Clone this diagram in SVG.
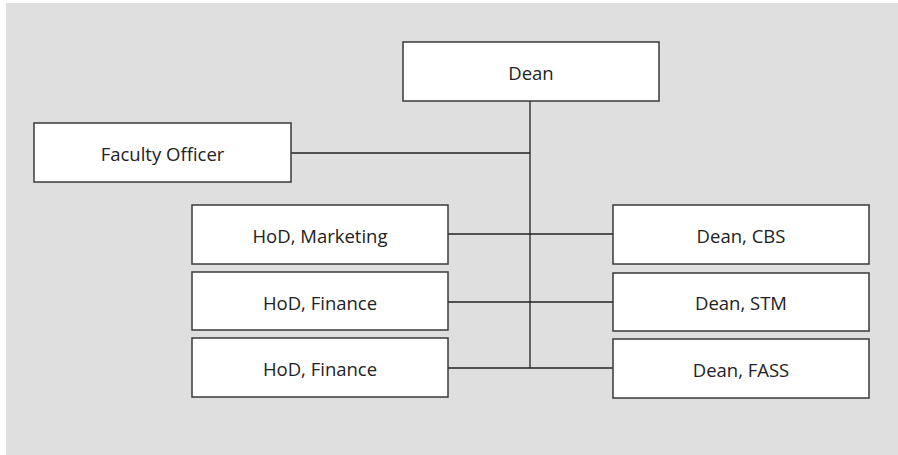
<svg xmlns="http://www.w3.org/2000/svg" width="898" height="455" viewBox="0 0 898 455">
<style>
.box{fill:#fff;stroke:#3a3a3a;stroke-width:1.5}
.lbl{font-family:"Open Sans","Noto Sans","Liberation Sans",sans-serif;font-size:18.5px;fill:#222;text-anchor:middle;dominant-baseline:central}
.con{stroke:#222;stroke-width:1.3;fill:none}
</style>
<rect x="6" y="3" width="892" height="452" fill="#dfdfdf"/>
<g id="connectors">
<line class="con" x1="530" y1="101" x2="530" y2="368"/>
<line class="con" x1="291" y1="153" x2="530" y2="153"/>
<line class="con" x1="448" y1="234" x2="613" y2="234"/>
<line class="con" x1="448" y1="302" x2="613" y2="302"/>
<line class="con" x1="448" y1="368" x2="613" y2="368"/>
</g>
<g id="dean"><rect class="box" x="403" y="42" width="256" height="59"/><text class="lbl" x="531" y="72">Dean</text></g>
<g id="faculty-officer"><rect class="box" x="34" y="123" width="257" height="59"/><text class="lbl" x="162.5" y="153">Faculty Officer</text></g>
<g id="hod-marketing"><rect class="box" x="192" y="205" width="256" height="59"/><text class="lbl" x="320" y="235">HoD, Marketing</text></g>
<g id="hod-finance-1"><rect class="box" x="192" y="272" width="256" height="58"/><text class="lbl" x="320" y="302">HoD, Finance</text></g>
<g id="hod-finance-2"><rect class="box" x="192" y="338" width="256" height="59"/><text class="lbl" x="320" y="368">HoD, Finance</text></g>
<g id="dean-cbs"><rect class="box" x="613" y="205" width="256" height="59"/><text class="lbl" x="741" y="235">Dean, CBS</text></g>
<g id="dean-stm"><rect class="box" x="613" y="273" width="256" height="58"/><text class="lbl" x="741" y="302">Dean, STM</text></g>
<g id="dean-fass"><rect class="box" x="613" y="339" width="256" height="59"/><text class="lbl" x="741" y="369">Dean, FASS</text></g>
</svg>
